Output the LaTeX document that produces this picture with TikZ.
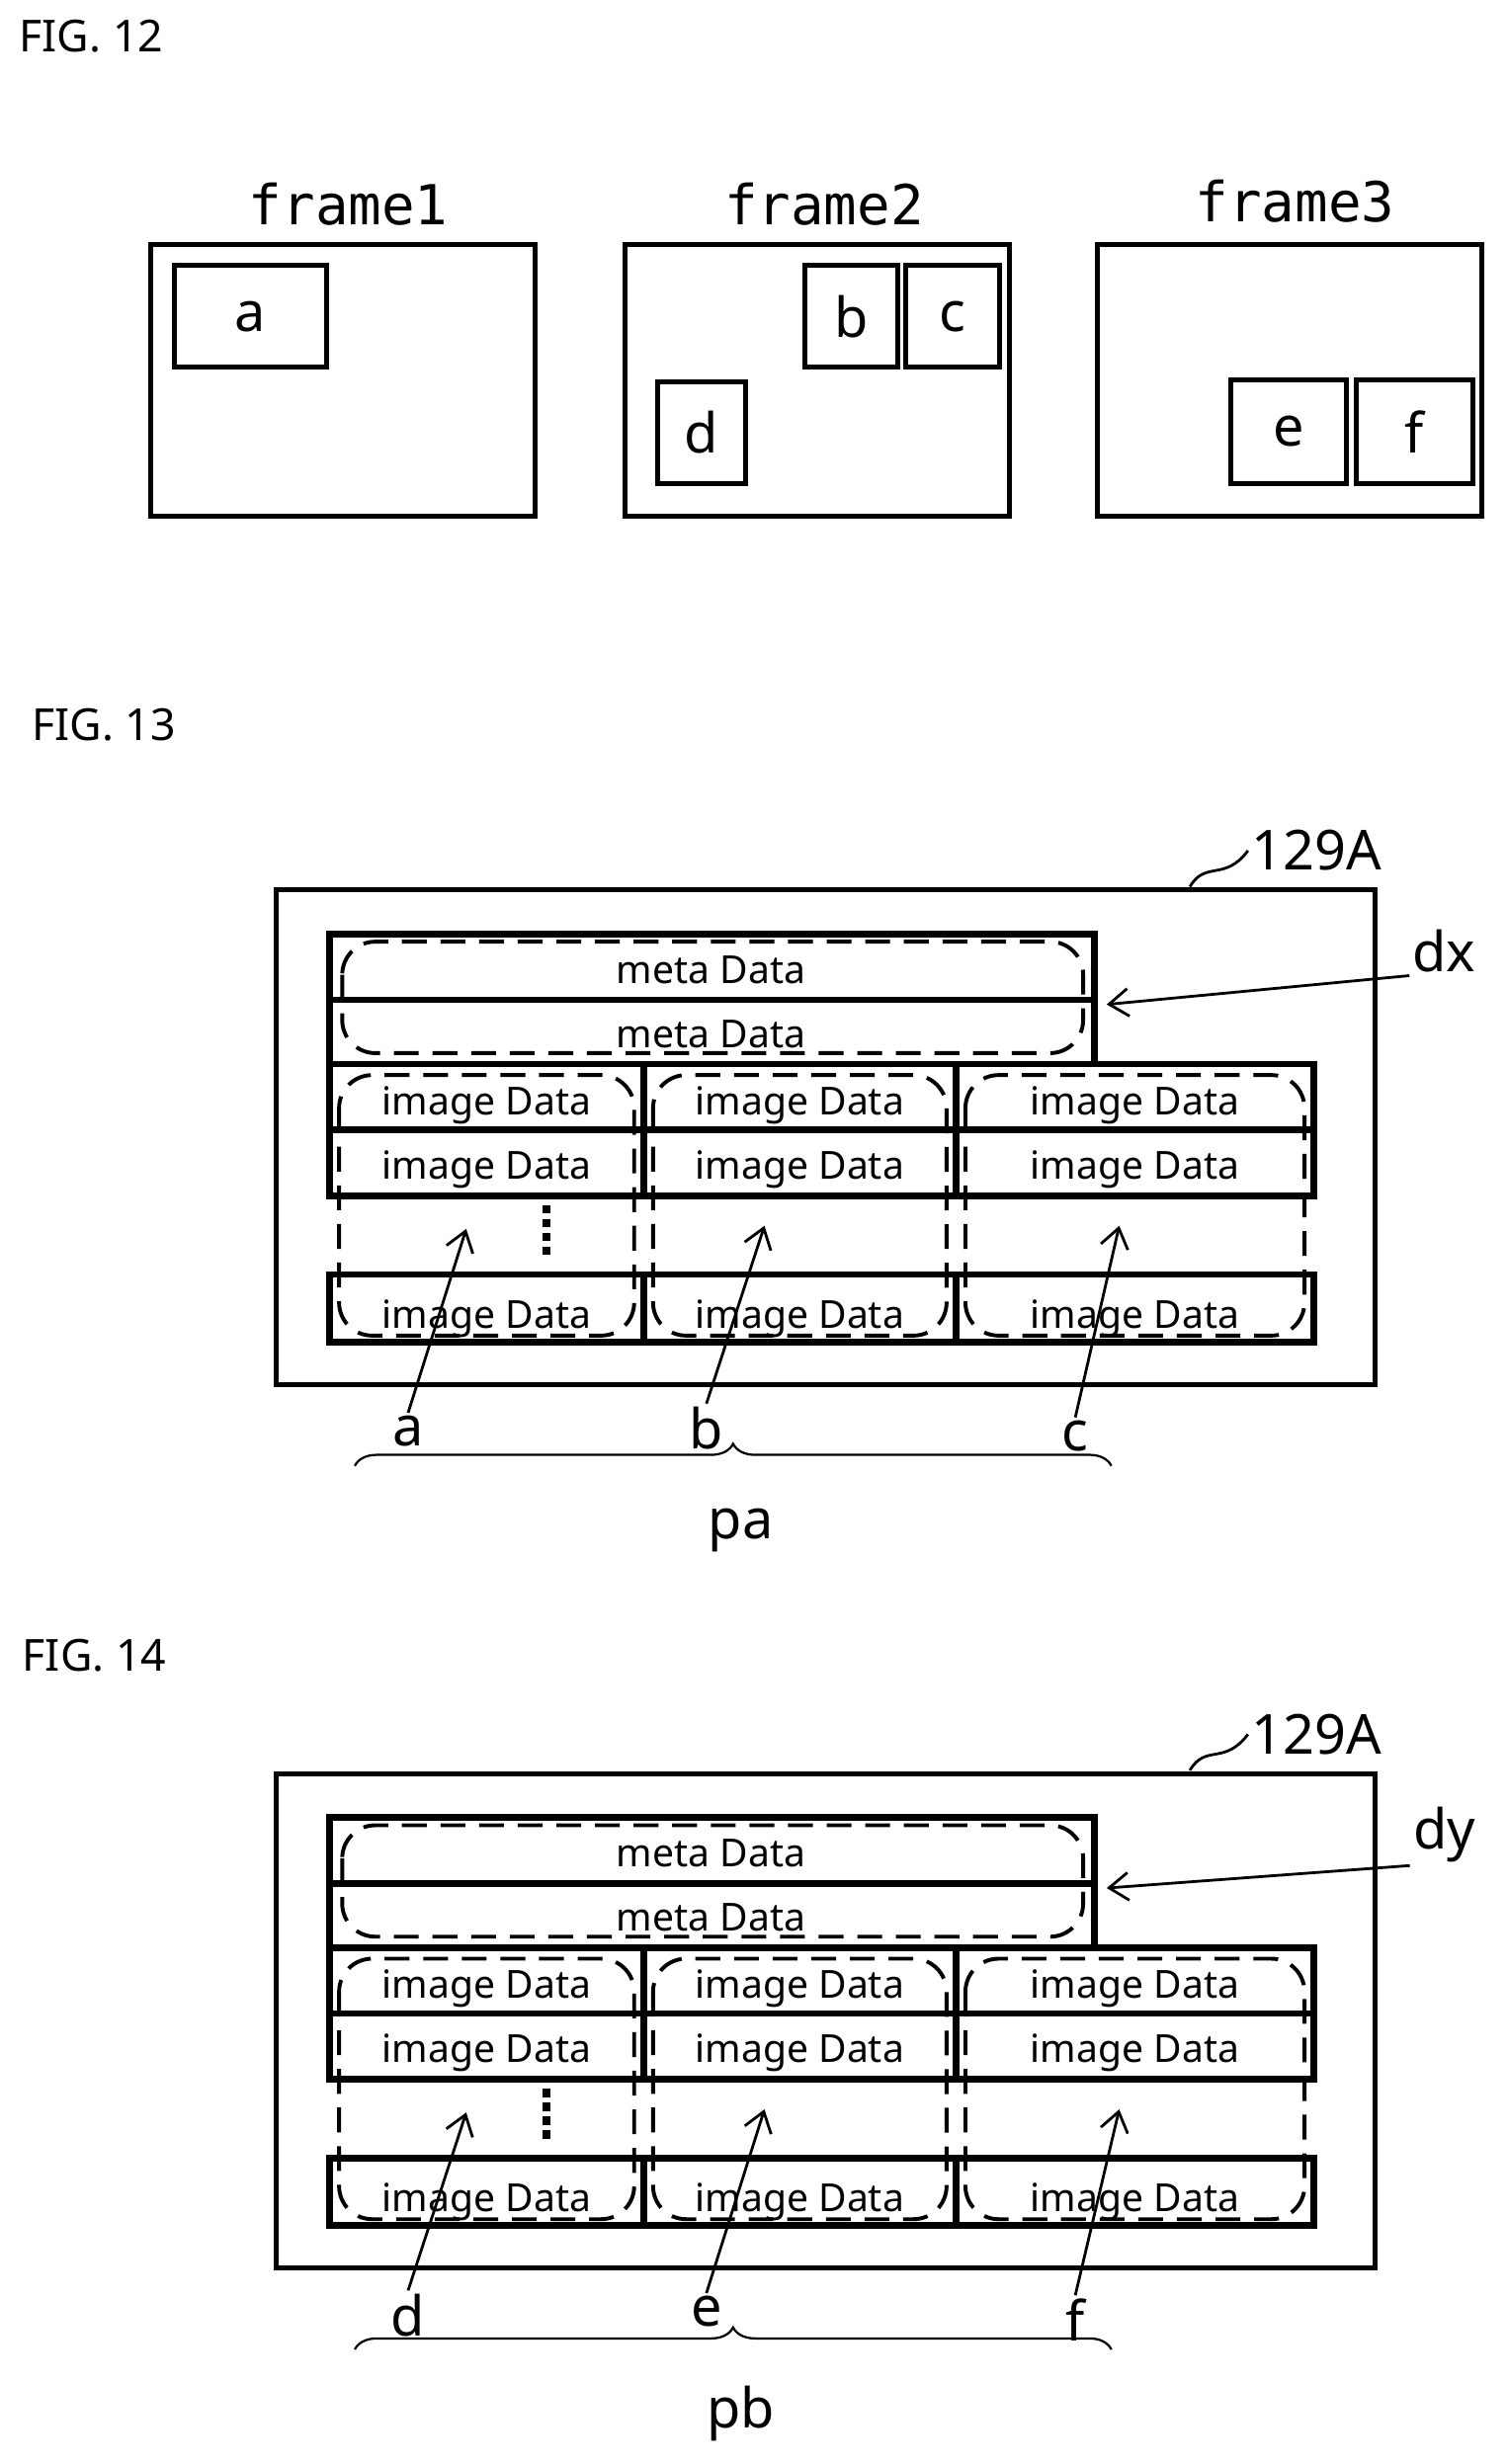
\documentclass[tikz,border=0pt]{standalone}
\usepackage{fontspec}
\setmainfont{Noto Sans}
\newfontfamily\monofam{DejaVu Sans Mono}
\usetikzlibrary{decorations.pathreplacing, arrows.meta}
\tikzset{
  frm/.style={line width=1.8pt},
  cell/.style={line width=2.4pt},
  grp/.style={line width=1.4pt, dashed, dash pattern=on 9pt off 5pt, rounded corners=12pt},
  txt/.style={font=\fontsize{14}{16}\selectfont, inner sep=0pt},
  lbl/.style={font=\fontsize{20}{22}\selectfont, inner sep=1pt},
  fig/.style={font=\fontsize{16}{18}\selectfont, anchor=west, inner sep=0pt},
  ptr/.style={line width=1pt, -{Straight Barb[length=7pt,width=10pt]}},
}
% one memory map (129A) with meta rows and three image columns
\newcommand{\memmap}[7]{%
  \draw [frm] (176,567) rectangle (876,882) ;
  \node [lbl, anchor=west] (mem#1) at (795,542) {129A} ;
  \draw [line width=1pt] (758,565) .. controls (768,548) and (780,562) .. (mem#1.west) ;
  \draw [cell] (210,595) rectangle (697,637) ;
  \draw [cell] (210,637) rectangle (697,678) ;
  \draw [grp] (218,600) rectangle (690,671) ;
  \node [txt] (meta#1a) at (453,618) {meta Data} ;
  \node [txt] (meta#1b) at (453,659) {meta Data} ;
  \foreach \xa/\xb [count=\k] in {210/410, 410/609, 609/837} {
    \draw [cell] (\xa,678) rectangle (\xb,720) ;
    \draw [cell] (\xa,720) rectangle (\xb,762) ;
    \draw [cell] (\xa,812) rectangle (\xb,855) ;
    \draw [grp] (\xa+6,685) rectangle (\xb-6,851) ;
    \node [txt] (img#1\k a) at ({(\xa+\xb)/2},704) {image Data} ;
    \node [txt] (img#1\k b) at ({(\xa+\xb)/2},745) {image Data} ;
    \node [txt] (img#1\k c) at ({(\xa+\xb)/2},840) {image Data} ;
  }
  \draw [line width=3pt, dash pattern=on 3pt off 2pt] (348,768) -- (348,802) ;
  % pointers
  \node [lbl] (d#1) at (920,606) {#2} ;
  \coordinate (dtip#1) at (705,640) ;
  \draw [ptr] (d#1.south west) -- (dtip#1) ;
  \node [lbl] (ga#1) at (260,912) {#3} ;
  \node [lbl] (gb#1) at (450,910) {#4} ;
  \node [lbl] (gc#1) at (685,915) {#5} ;
  \coordinate (ta#1) at (297,783) ;
  \coordinate (tb#1) at (487,781) ;
  \coordinate (tc#1) at (713,781) ;
  \draw [ptr] (ga#1.north) -- (ta#1) ;
  \draw [ptr] (gb#1.north) -- (tb#1) ;
  \draw [ptr] (gc#1.north) -- (tc#1) ;
  \coordinate (bl#1) at (226,934) ;
  \coordinate (br#1) at (708,934) ;
  \draw [line width=0.8pt, decoration={brace, amplitude=8pt}, decorate] (bl#1) -- (br#1) ;
  \node [lbl] (p#1) at (472,975) {#6} ;
}
\begin{document}
\begin{tikzpicture}[x=0.02cm, y=-0.02cm]
    \useasboundingbox (0,0) rectangle (960,1570) ;
    \node [fig] (fig12) at (12,23) {FIG. 12} ;
    \node [fig] (fig13) at (20,462) {FIG. 13} ;
    \node [fig] (fig14) at (14,1055) {FIG. 14} ;

    % FIG. 12 frames
    \draw [frm] (96,156) rectangle (341,329) ;
    \node [lbl, font=\monofam\fontsize{20}{22}\selectfont] (frame1) at (222,130) {frame1} ;
    \draw [frm] (111,169) rectangle (208,234) node [pos=.5, lbl] (a) {a} ;

    \draw [frm] (398,156) rectangle (643,329) ;
    \node [lbl, font=\monofam\fontsize{20}{22}\selectfont] (frame2) at (525,130) {frame2} ;
    \draw [frm] (513,169) rectangle (572,234) node [pos=.5, lbl] (b) {b} ;
    \draw [frm] (577,169) rectangle (637,234) node [pos=.5, lbl] (c) {c} ;
    \draw [frm] (419,243) rectangle (475,308) node [pos=.5, lbl] (d) {d} ;

    \draw [frm] (699,156) rectangle (944,329) ;
    \node [lbl, font=\monofam\fontsize{20}{22}\selectfont] (frame3) at (825,128) {frame3} ;
    \draw [frm] (784,242) rectangle (858,308) node [pos=.5, lbl] (e) {e} ;
    \draw [frm] (864,242) rectangle (938,308) node [pos=.5, lbl] (f) {f} ;

    % FIG. 13
    \memmap{x}{dx}{a}{b}{c}{pa}{}
    % FIG. 14
    \begin{scope}[yshift=-563*0.02cm]
      \memmap{y}{dy}{d}{e}{f}{pb}{}
    \end{scope}
\end{tikzpicture}
\end{document}
